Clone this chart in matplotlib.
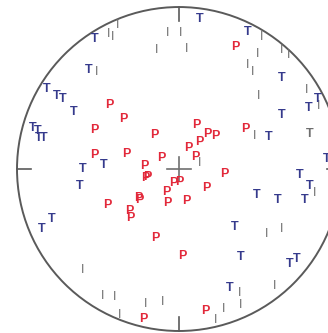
import matplotlib
matplotlib.use("Agg")
import matplotlib.pyplot as plt
from matplotlib.patches import Circle

# Lower-hemisphere projection coordinates (east, north) on a unit net
p_x = [0.346, -0.432, -0.346, -0.525, -0.154, 0.105, 0.173, 0.222, 0.407, 0.123,
       0.056, -0.525, -0.327, -0.111, 0.099, -0.216, -0.198, -0.210, 0.278, -0.037,
       0.0, 0.167, -0.080, -0.253, -0.247, -0.074, 0.043, -0.444, -0.309, -0.302,
       0.019, -0.148, 0.160, -0.222]
p_y = [0.765, 0.407, 0.321, 0.253, 0.222, 0.278, 0.228, 0.216, 0.259, 0.173,
       0.136, 0.093, 0.105, 0.080, 0.086, 0.025, -0.037, -0.049, -0.019, -0.080,
       -0.074, -0.105, -0.130, -0.167, -0.185, -0.198, -0.191, -0.216, -0.247, -0.296,
       -0.525, -0.414, -0.870, -0.914]

t_x = [-0.519, -0.556, -0.815, -0.753, -0.716, -0.648, -0.901, -0.870, -0.864, -0.833,
       -0.593, -0.463, -0.611, -0.784, -0.846, 0.130, 0.426, 0.636, 0.858, 0.802,
       0.636, 0.556, 0.914, 0.747, 0.809, 0.481, 0.611, 0.778, 0.346, 0.383,
       0.685, 0.728, 0.315]
t_y = [0.809, 0.623, 0.506, 0.457, 0.444, 0.364, 0.265, 0.247, 0.198, 0.198,
       0.012, 0.031, -0.093, -0.302, -0.364, 0.938, 0.858, 0.574, 0.444, 0.383,
       0.340, 0.204, 0.074, -0.025, -0.093, -0.154, -0.179, -0.179, -0.346, -0.531,
       -0.580, -0.549, -0.728]

# Null (B) axes
b_x = [-0.432, -0.407, -0.377, -0.136, -0.506, -0.068, 0.012, 0.049, 0.512, 0.488,
       0.636, 0.679, 0.426, 0.457, 0.494, 0.790, 0.864, 0.469, 0.130, 0.840,
       0.543, 0.636, 0.593, 0.377, 0.383, 0.278, 0.228, -0.593, -0.469, -0.395,
       -0.364, -0.204, -0.099]
b_y = [0.840, 0.827, 0.901, 0.747, 0.611, 0.846, 0.846, 0.753, 0.827, 0.722,
       0.747, 0.716, 0.654, 0.611, 0.457, 0.500, 0.401, 0.216, 0.049, -0.136,
       -0.395, -0.364, -0.710, -0.759, -0.833, -0.858, -0.920, -0.617, -0.772, -0.784,
       -0.889, -0.827, -0.809]

# Single grey T
gt_x = [0.808]
gt_y = [0.228]

fig = plt.figure(figsize=(3.28, 3.33), dpi=100)
ax = fig.add_axes([0, 0, 1, 1])
ax.set_xlim(-1.105, 0.920)
ax.set_ylim(-1.012, 1.043)
ax.set_aspect("equal")
ax.axis("off")

net_col = "#5a5a5a"
ax.add_patch(Circle((0, 0), 1.0, fill=False, edgecolor=net_col, lw=1.4))
for dx, dy in [(0, 1), (0, -1), (-1, 0), (1, 0)]:
    ax.plot([dx, dx * 0.915], [dy, dy * 0.915], color=net_col, lw=1.2)
arm = 0.075
ax.plot([-arm, arm], [0, 0], color="#707070", lw=1.2)
ax.plot([0, 0], [-arm, arm], color="#707070", lw=1.2)

font = "Liberation Sans"
for x, y in zip(b_x, b_y):
    ax.text(x, y, "I", color="#6e6e6e", fontsize=9, family=font,
            ha="center", va="center_baseline")
for x, y in zip(gt_x, gt_y):
    ax.text(x, y, "T", color="#6e6e6e", fontsize=9, family=font,
            fontweight="bold", ha="center", va="center_baseline")
for x, y in zip(t_x, t_y):
    ax.text(x, y, "T", color="#353a8c", fontsize=9, family=font,
            fontweight="bold", ha="center", va="center_baseline")
for x, y in zip(p_x, p_y):
    ax.text(x, y, "P", color="#e2283a", fontsize=9, family=font,
            fontweight="bold", ha="center", va="center_baseline")

fig.savefig("out.png", dpi=100)
